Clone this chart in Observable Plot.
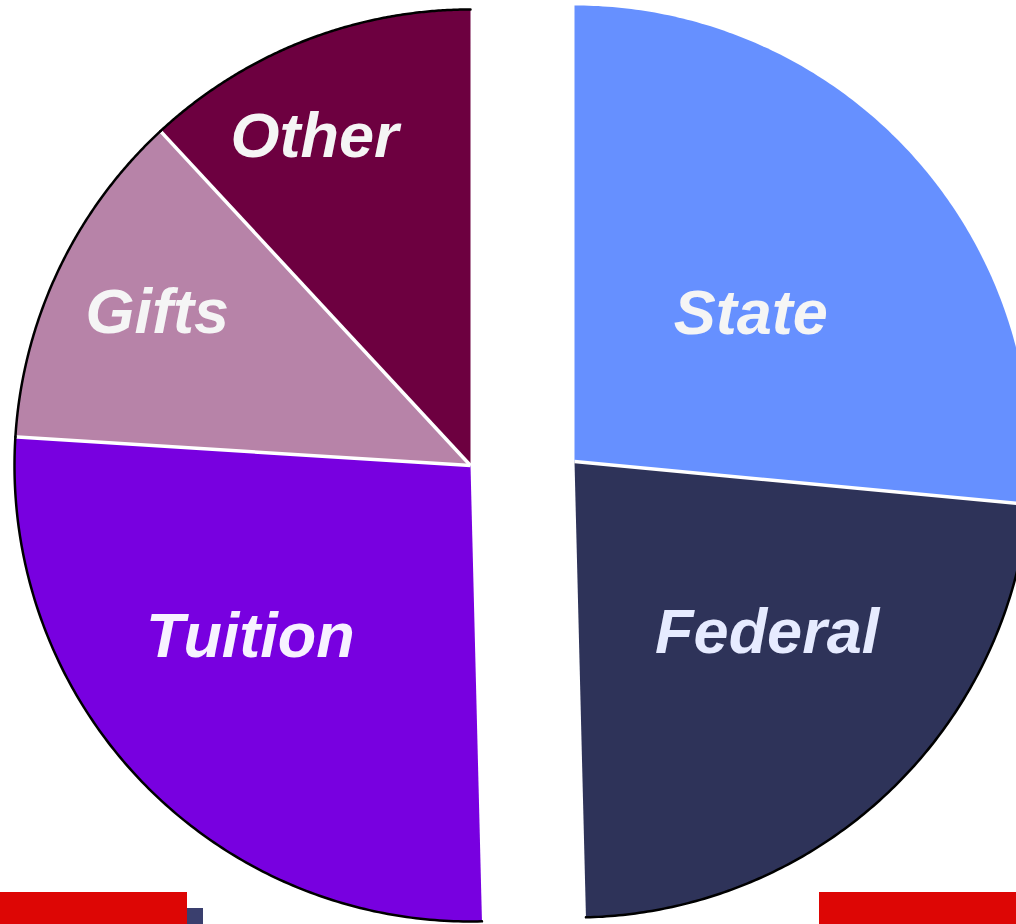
<!DOCTYPE html>
<html><head><meta charset="utf-8">
<script src="https://cdn.jsdelivr.net/npm/d3@7"></script>
<script src="https://cdn.jsdelivr.net/npm/@observablehq/plot@0.6"></script>
<style>
html,body{margin:0;padding:0;background:#fff;}
#chart{position:relative;width:1016px;height:924px;overflow:hidden;}
#chart svg{display:block;}
.deco{position:absolute;}
</style></head><body>
<div id="chart"></div>
<script>
// ---- data ----
const categories = ["State", "Federal", "Tuition", "Gifts", "Other"];
const shares = [26.5, 23.1, 26.4, 12.1, 11.9];
const halves = ["right", "right", "left", "left", "left"];
const sliceColors = ["#6690FF", "#2E3359", "#7800E0", "#B783A8", "#6D0040"];
const labelColors = ["#F5F5F5", "#E6EBFF", "#F7F2FF", "#F5F5F5", "#F5F5F5"];
const outlined = [false, true, true, true, true];

// ---- layout ----
const W = 1016, H = 924, R = 456;
const centers = {right: [574, 461], left: [470, 465]};
const labelRadius = 0.6;
const labelNudge = {State: [-26, 36], Federal: [6, -29], Tuition: [-23, -18], Gifts: [-66, -35], Other: [-56, -74]};

const arcs = d3.pie().sort(null).value((d, i) => shares[i])(categories);
const pt = (c, a, r) => [c[0] + r * Math.sin(a), c[1] - r * Math.cos(a)];

const fillPts = [], rimPts = [], seps = [], labels = [];
arcs.forEach((arc, i) => {
  const key = categories[i];
  const c = centers[halves[i]];
  const n = 160;
  const ring = [];
  for (let k = 0; k <= n; k++) {
    const a = arc.startAngle + (arc.endAngle - arc.startAngle) * k / n;
    const [x, y] = pt(c, a, R);
    ring.push({key, x, y});
  }
  fillPts.push({key, x: c[0], y: c[1], color: sliceColors[i]});
  ring.forEach(p => fillPts.push({...p, color: sliceColors[i]}));
  fillPts.push({key, x: c[0], y: c[1], color: sliceColors[i]});
  if (outlined[i]) ring.forEach(p => rimPts.push({...p}));
  if (i < arcs.length - 1 && halves[i + 1] === halves[i]) {
    const [x2, y2] = pt(c, arc.endAngle, R + 2);
    seps.push({x1: c[0], y1: c[1], x2, y2});
  }
  const mid = (arc.startAngle + arc.endAngle) / 2;
  const [lx, ly] = pt(c, mid, R * labelRadius);
  const nd = labelNudge[key];
  labels.push({text: key, x: lx + nd[0], y: ly + nd[1], color: labelColors[i]});
});

const chart = Plot.plot({
  width: W, height: H, margin: 0,
  x: {domain: [0, W], range: [0, W], axis: null},
  y: {domain: [0, H], range: [0, H], axis: null},
  color: {type: "identity"},
  style: {background: "transparent", overflow: "visible"},
  marks: [
    Plot.line(fillPts, {x: "x", y: "y", z: "key", fill: "color", stroke: "none"}),
    Plot.link(seps, {x1: "x1", y1: "y1", x2: "x2", y2: "y2", stroke: "white", strokeWidth: 3.5}),
    Plot.line(rimPts, {x: "x", y: "y", z: "key", stroke: "black", strokeWidth: 2.5}),
    Plot.text(labels, {x: "x", y: "y", text: "text", fill: "color", fontSize: 63, fontWeight: "bold", fontStyle: "italic", fontFamily: "Liberation Sans, Arial, sans-serif"})
  ]
});
const host = document.getElementById("chart");
host.appendChild(chart);

// decorative slide footer blocks
[["0px", "892px", "187px", "32px", "#DD0605"], ["187px", "908px", "16px", "16px", "#3A3F6E"], ["819px", "892px", "197px", "32px", "#DD0605"]]
  .forEach(([l, t, w, h, c]) => {
    const d = document.createElement("div");
    d.className = "deco";
    Object.assign(d.style, {left: l, top: t, width: w, height: h, background: c});
    host.appendChild(d);
  });
</script>
</body></html>
